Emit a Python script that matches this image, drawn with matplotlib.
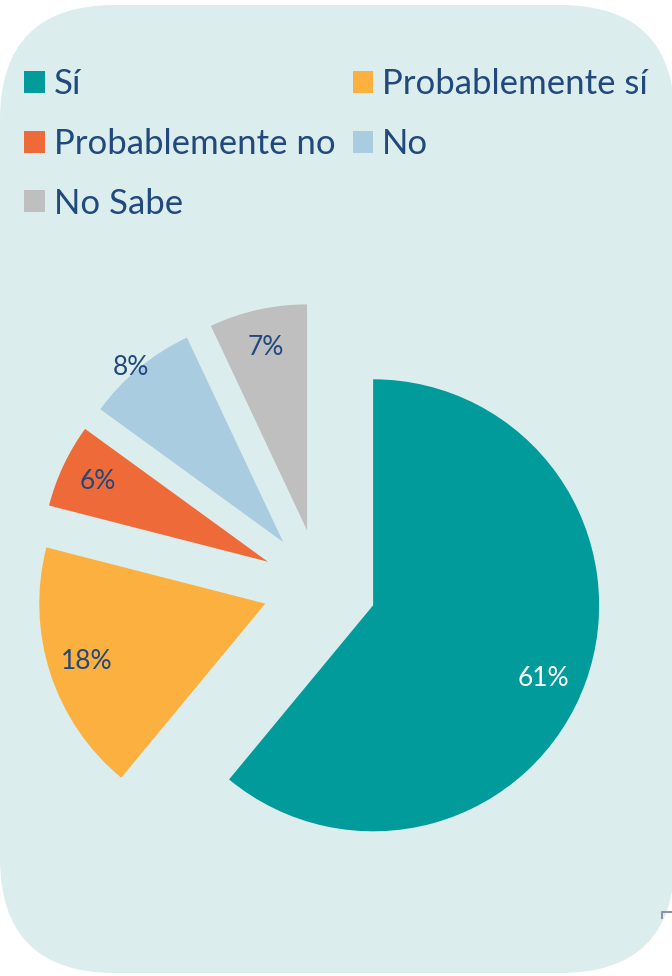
import matplotlib
matplotlib.use("Agg")
from matplotlib import pyplot as plt
from matplotlib.patches import FancyBboxPatch, Patch
import math

labels = ['Sí', 'Probablemente sí', 'Probablemente no', 'No', 'No Sabe']
values = [61, 18, 6, 8, 7]
colors = ['#009b9a', '#fbb040', '#ef6a39', '#a9cce0', '#bfbfbf']
text_color = '#22497d'
bg_color = '#dbeeed'

plt.rcParams['font.family'] = ['Lato', 'DejaVu Sans']

fig = plt.figure(figsize=(6.72, 9.76), dpi=100)
ax = fig.add_axes([0, 0, 1, 1])

# rounded panel behind everything (pixel units, y up)
bg = FancyBboxPatch((0, 3), 675, 968, boxstyle='round,pad=0,rounding_size=115',
                    facecolor=bg_color, edgecolor='none', zorder=0)
ax.add_patch(bg)

wedges, texts, autotexts = ax.pie(
    values, colors=colors, startangle=90, counterclock=False,
    center=(319.5, 390), radius=226, explode=[57] * 5,
    autopct='%.0f%%', pctdistance=0.83,
    wedgeprops=dict(linewidth=0),
    textprops=dict(color=text_color, fontsize=19))

autotexts[0].set_color('white')
autotexts[0].set_position((wedges[0].center[0] + 170, wedges[0].center[1] - 73))
# the small "No" slice has its label pushed out to the rim
cx, cy = wedges[3].center
th = math.radians((wedges[3].theta1 + wedges[3].theta2) / 2)
autotexts[3].set_position((cx + 1.0 * 226 * math.cos(th) - 8, cy + 1.0 * 226 * math.sin(th)))

# small corner tick bottom right
ax.plot([662, 662, 672], [58, 64, 64], color='#8d93aa', lw=1.5, zorder=1)

ax.set_xlim(0, 672)
ax.set_ylim(0, 976)
ax.set_aspect('equal')
ax.axis('off')

# legend filled row-wise: reorder for column-major fill
order = [0, 2, 4, 1, 3]
handles = [Patch(facecolor=colors[i], edgecolor='none') for i in order]
leg = ax.legend(handles, [labels[i] for i in order], ncol=2,
                loc='upper left', bbox_to_anchor=(24 / 672, 1 - 68 / 976),
                frameon=False, fontsize=25, labelcolor=text_color,
                handlelength=0.6, handleheight=0.6, handletextpad=0.25,
                columnspacing=0.5, labelspacing=0.8, borderaxespad=0,
                borderpad=0)

fig.savefig('out.png', dpi=100)
